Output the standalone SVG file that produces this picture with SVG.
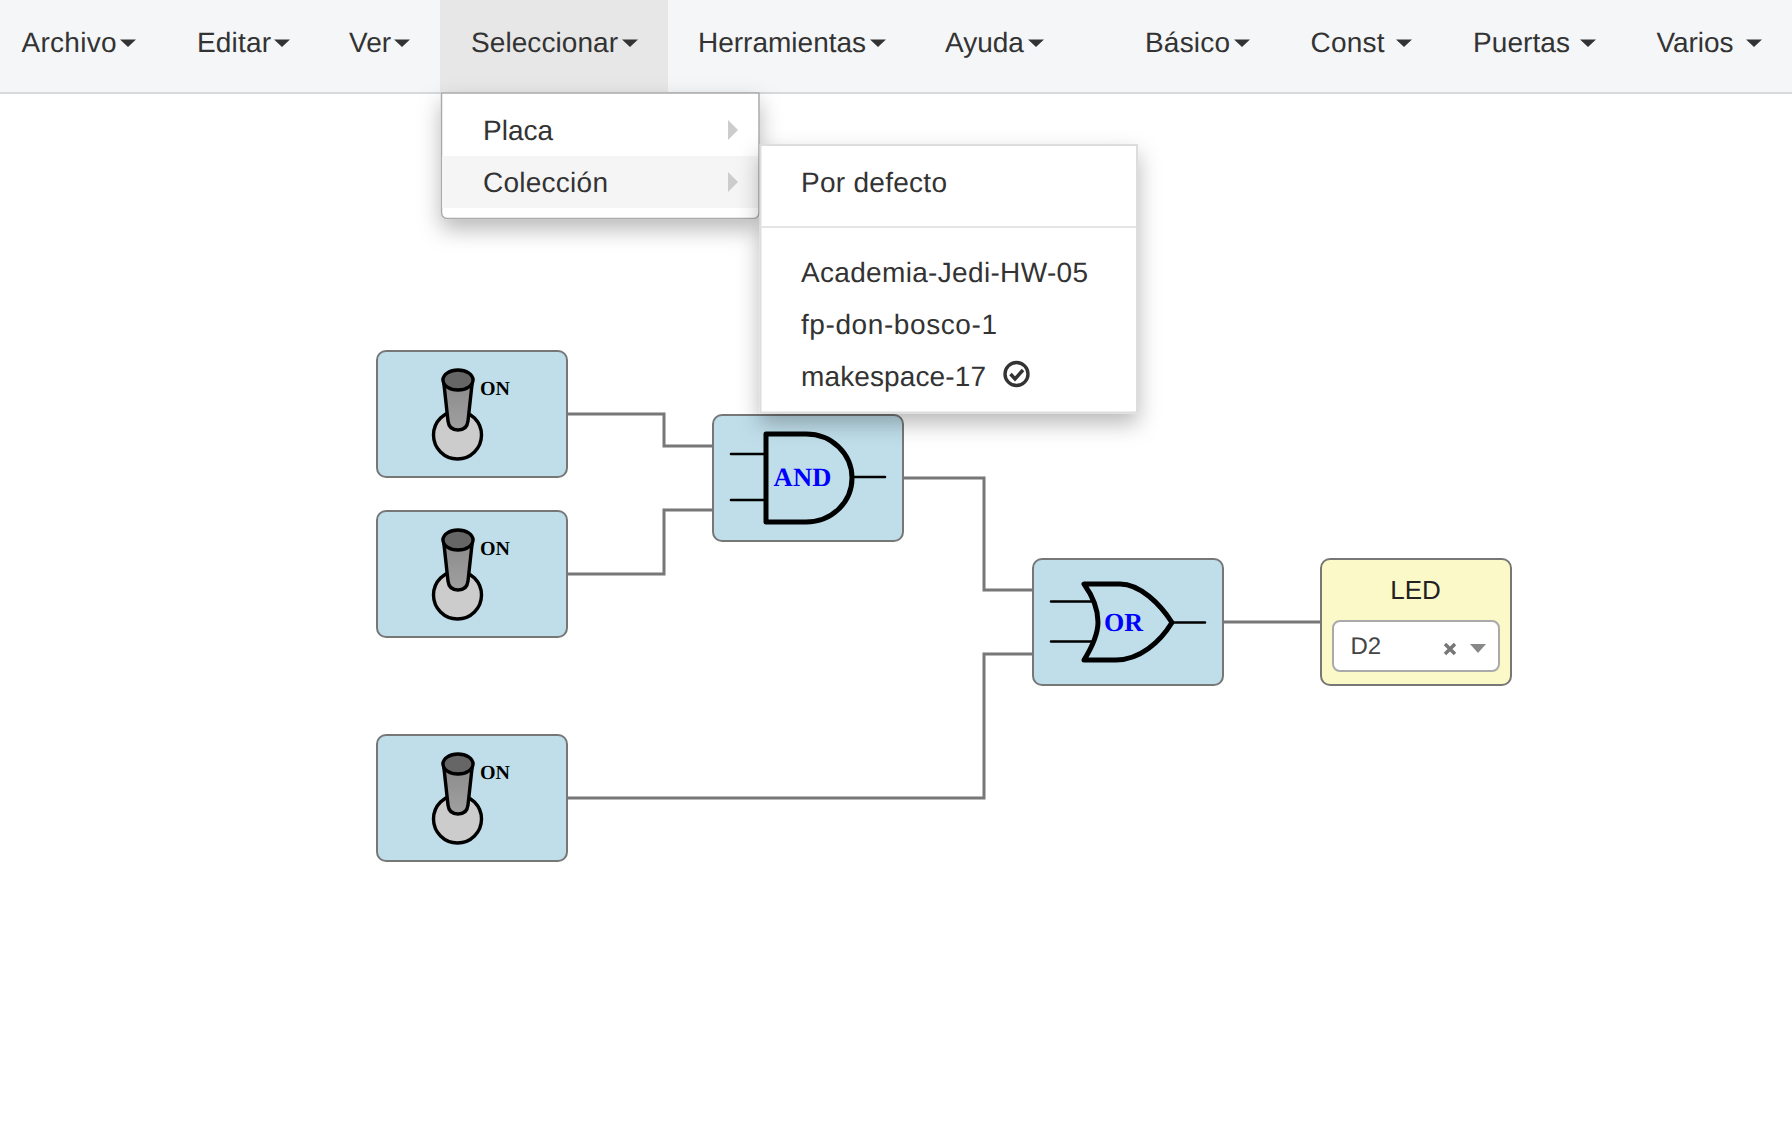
<svg xmlns="http://www.w3.org/2000/svg" width="1792" height="1122" viewBox="0 0 1792 1122">
<style>
text{font-family:"Liberation Sans",Arial,sans-serif;text-rendering:geometricPrecision}
.nav{font-size:28px;fill:#333}
.item{font-size:28px;fill:#333}
.caret{fill:#333}
.block{fill:#bfdeea;stroke:#777;stroke-width:2}
.wire{fill:none;stroke:#777;stroke-width:3}
.on{font-family:"Liberation Serif","Times New Roman",serif;font-weight:bold;font-size:20px;fill:#000}
.gate{font-family:"Liberation Serif","Times New Roman",serif;font-weight:bold;font-size:26.5px;fill:#00f}
.g{fill:none;stroke:#000;stroke-width:5;stroke-linejoin:round;stroke-linecap:round}
.s{fill:none;stroke:#000;stroke-width:2.6;stroke-linecap:round}
.sw{stroke:#000;stroke-width:3.4}
.arr{fill:#ccc}
</style>
<defs>
<filter id="shadow" x="-20%" y="-20%" width="140%" height="160%"><feDropShadow dx="0" dy="10" stdDeviation="11" flood-color="#000" flood-opacity=".28"/></filter>
<linearGradient id="h" x1="0" x2="0" y1="0" y2="1"><stop offset="0" stop-color="#8a8a8a"/><stop offset="1" stop-color="#a0a0a0"/></linearGradient>
<g id="switch">
<rect class="block" x="377" y="351" width="190" height="126" rx="9"/>
<circle class="sw" cx="457.5" cy="435" r="24" fill="#ccc"/>
<path class="sw" d="M443.500 380L448 421Q449 430 458 430Q467 430 468 421L472.500 380Z" fill="url(#h)"/>
<ellipse class="sw" cx="458" cy="380" rx="15" ry="10" fill="#666"/>
<text class="on" x="480" y="395">ON</text>
</g>
</defs>
<rect width="1792" height="1122" fill="#fff"/>
<g id="connectors">
<path class="wire" d="M567 414H664V446H713"/>
<path class="wire" d="M567 574H664V510H713"/>
<path class="wire" d="M903 478H984V590H1033"/>
<path class="wire" d="M567 798H984V654H1033"/>
<path class="wire" d="M1223 622H1321"/>
</g>
<g id="switch-1"><use href="#switch"/></g>
<g id="switch-2"><use href="#switch" y="160"/></g>
<g id="switch-3"><use href="#switch" y="384"/></g>
<g id="and-gate">
<rect class="block" x="713" y="415" width="190" height="126" rx="9"/>
<path class="g" d="M766 434H806C832 434 852 454 852 478C852 502 832 522 806 522H766Z"/>
<path class="s" d="M731 454H766M731 500H766M852 477H885"/>
<text class="gate" x="773.500" y="486" textLength="58">AND</text>
</g>
<g id="or-gate">
<rect class="block" x="1033" y="559" width="190" height="126" rx="9"/>
<path class="g" d="M1084 584H1120C1140 584 1160 604 1172 622.500C1160 642 1140 660 1116 660H1084C1094 644 1098 632 1098 622C1098 610 1094 598 1084 584Z"/>
<path class="s" d="M1051 601.500H1092M1051 641.500H1092M1172 622.500H1205"/>
<text class="gate" x="1104" y="631" style="font-size:26px">OR</text>
</g>
<g id="led">
<rect x="1321" y="559" width="190" height="126" rx="9" fill="#fbf9c8" stroke="#777" stroke-width="2"/>
<text x="1415.500" y="599" text-anchor="middle" font-size="26" fill="#222">LED</text>
<rect x="1333" y="621" width="166" height="50" rx="7" fill="#fff" stroke="#aaa" stroke-width="2"/>
<text x="1350.500" y="654" font-size="24" fill="#444">D2</text>
<path d="M1445 644L1455 654M1455 644L1445 654" stroke="#777" stroke-width="3.500" fill="none"/>
<path d="M1470 644H1486L1478 653Z" fill="#888"/>
</g>
<g id="navbar">
<rect width="1792" height="92" fill="#f5f6f8"/>
<rect y="92" width="1792" height="2" fill="#d6dadc"/>
<rect x="440" width="228" height="93" fill="#e7e7e7"/>
<text class="nav" x="21.500" y="52" textLength="95">Archivo</text><path class="caret" d="M120 39.500H136L128 47Z"/>
<text class="nav" x="197" y="52" textLength="74">Editar</text><path class="caret" d="M274 39.500H290L282 47Z"/>
<text class="nav" x="349" y="52">Ver</text><path class="caret" d="M394 39.500H410L402 47Z"/>
<text class="nav" x="471" y="52" textLength="147">Seleccionar</text><path class="caret" d="M622 39.500H638L630 47Z"/>
<text class="nav" x="698" y="52">Herramientas</text><path class="caret" d="M870 39.500H886L878 47Z"/>
<text class="nav" x="945" y="52">Ayuda</text><path class="caret" d="M1028 39.500H1044L1036 47Z"/>
<text class="nav" x="1145" y="52" textLength="85">Básico</text><path class="caret" d="M1234 39.500H1250L1242 47Z"/>
<text class="nav" x="1310.500" y="52" textLength="74">Const</text><path class="caret" d="M1396 39.500H1412L1404 47Z"/>
<text class="nav" x="1473" y="52" textLength="97">Puertas</text><path class="caret" d="M1580 39.500H1596L1588 47Z"/>
<text class="nav" x="1656.500" y="52" textLength="77">Varios</text><path class="caret" d="M1746 39.500H1762L1754 47Z"/>
</g>
<g id="menu-seleccionar">
<path d="M441.500 93H759V212Q759 218.500 753 218.500H447.500Q441.500 218.500 441.500 212Z" fill="#fff" stroke="#aaa" stroke-width="1.500" filter="url(#shadow)"/>
<rect x="442" y="156" width="316" height="52" fill="#f5f5f5"/>
<text class="item" x="483" y="140">Placa</text>
<path class="arr" d="M728 120L738 130L728 140Z"/>
<text class="item" x="483" y="191.500" textLength="125">Colección</text>
<path class="arr" d="M728 172L738 182L728 192Z"/>
</g>
<g id="menu-coleccion">
<rect x="760.500" y="145" width="376.500" height="267.500" fill="#fff" stroke="#ddd" stroke-width="2" filter="url(#shadow)"/>
<rect x="761" y="226" width="375" height="2" fill="#e5e5e5"/>
<text class="item" x="801" y="191.500" textLength="146">Por defecto</text>
<text class="item" x="801" y="281.500" textLength="287">Academia-Jedi-HW-05</text>
<text class="item" x="801" y="333.500" textLength="196">fp-don-bosco-1</text>
<text class="item" x="801" y="385.500" textLength="185">makespace-17</text>
<circle cx="1016.500" cy="374" r="11.500" fill="none" stroke="#333" stroke-width="3.400"/>
<path d="M1010.500 374L1015 379L1023 370" fill="none" stroke="#333" stroke-width="3.400"/>
</g>
</svg>
